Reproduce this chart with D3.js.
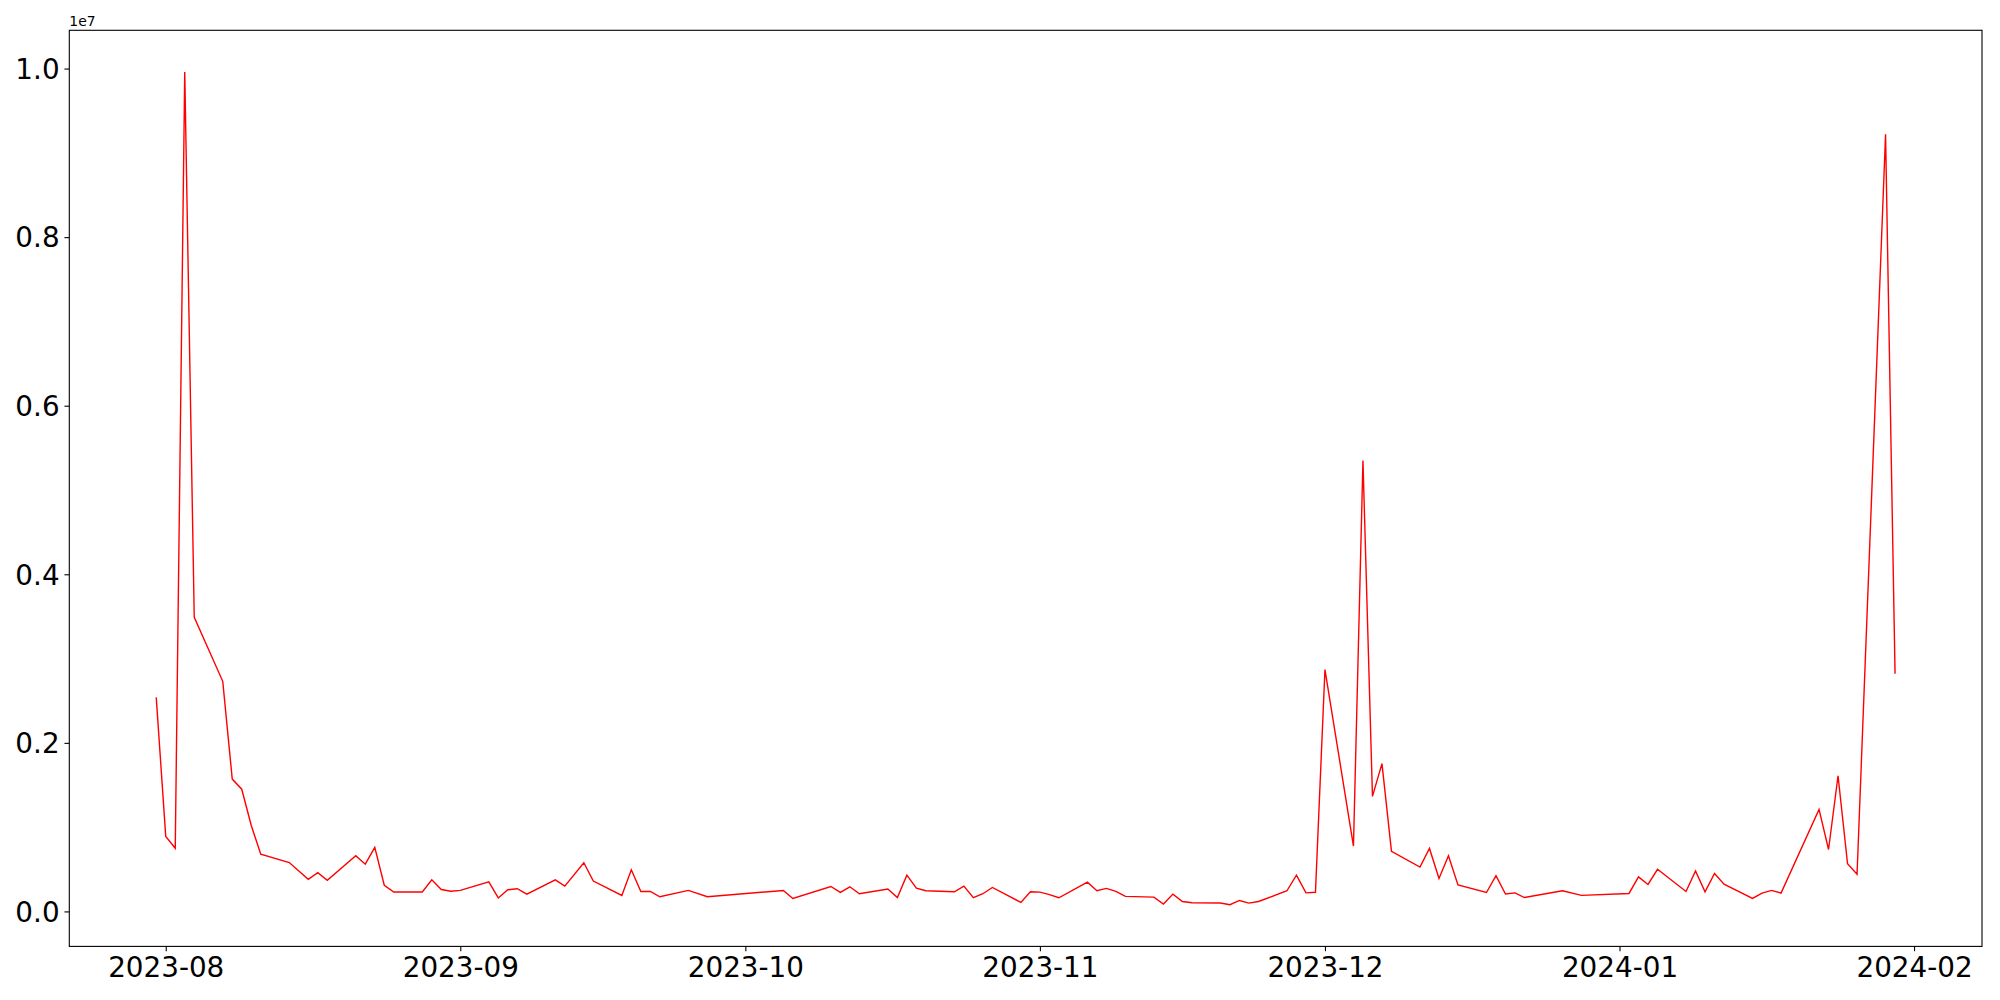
<!DOCTYPE html>
<html>
<head>
<meta charset="utf-8">
<script src="https://cdn.jsdelivr.net/npm/d3@7"></script>
<style>
  body { margin: 0; background: #fff; }
  text { font-family: "DejaVu Sans", sans-serif; fill: #000; }
</style>
</head>
<body>
<div id="chart"></div>
<script>
// trading days and values (raw units, axis shows 1e7)
const dates = [
  "2023-07-31",
  "2023-08-01", "2023-08-02", "2023-08-03", "2023-08-04",
  "2023-08-07", "2023-08-08", "2023-08-09", "2023-08-10", "2023-08-11",
  "2023-08-14", "2023-08-16", "2023-08-17", "2023-08-18",
  "2023-08-21", "2023-08-22", "2023-08-23", "2023-08-24", "2023-08-25",
  "2023-08-28", "2023-08-29", "2023-08-30", "2023-08-31", "2023-09-01",
  "2023-09-04", "2023-09-05", "2023-09-06", "2023-09-07", "2023-09-08",
  "2023-09-11", "2023-09-12", "2023-09-14", "2023-09-15",
  "2023-09-18", "2023-09-19", "2023-09-20", "2023-09-21", "2023-09-22",
  "2023-09-25", "2023-09-27",
  "2023-10-05", "2023-10-06",
  "2023-10-10", "2023-10-11", "2023-10-12", "2023-10-13",
  "2023-10-16", "2023-10-17", "2023-10-18", "2023-10-19", "2023-10-20",
  "2023-10-23", "2023-10-24", "2023-10-25", "2023-10-26", "2023-10-27",
  "2023-10-30", "2023-10-31", "2023-11-01", "2023-11-02", "2023-11-03",
  "2023-11-06", "2023-11-07", "2023-11-08", "2023-11-09", "2023-11-10",
  "2023-11-13", "2023-11-14", "2023-11-15", "2023-11-16", "2023-11-17",
  "2023-11-20", "2023-11-21", "2023-11-22", "2023-11-23", "2023-11-24",
  "2023-11-27", "2023-11-28", "2023-11-29", "2023-11-30", "2023-12-01",
  "2023-12-04", "2023-12-05", "2023-12-06", "2023-12-07", "2023-12-08",
  "2023-12-11", "2023-12-12", "2023-12-13", "2023-12-14", "2023-12-15",
  "2023-12-18", "2023-12-19", "2023-12-20", "2023-12-21", "2023-12-22",
  "2023-12-26", "2023-12-28",
  "2024-01-02", "2024-01-03", "2024-01-04", "2024-01-05",
  "2024-01-08", "2024-01-09", "2024-01-10", "2024-01-11", "2024-01-12",
  "2024-01-15", "2024-01-16", "2024-01-17", "2024-01-18",
  "2024-01-22", "2024-01-23", "2024-01-24", "2024-01-25", "2024-01-26",
  "2024-01-29", "2024-01-30"
];

const values = [
  2540000,
  890000, 750000, 9960000, 3490000,
  2730000, 1570000, 1450000, 1020000, 680000,
  580000, 380000, 460000, 370000,
  660000, 560000, 760000, 310000, 230000,
  230000, 375000, 260000, 240000, 250000,
  350000, 160000, 257000, 269000, 205000,
  375000, 300000, 577000, 360000,
  190000, 494000, 237000, 237000, 174000,
  249000, 174000,
  249000, 154000,
  296000, 225000, 292000, 210000,
  265000, 164000, 430000, 277000, 245000,
  233000, 300000, 162000, 210000, 284000,
  107000, 233000, 229000, 200000, 162000,
  347000, 245000, 273000, 237000, 178000,
  170000, 87000, 205000, 118000, 103000,
  99000, 79000, 130000, 99000, 118000,
  245000, 430000, 220000, 227000, 2870000,
  775000, 5350000, 1365000, 1754000, 713000,
  526000, 747000, 390000, 660000, 314000,
  224000, 424000, 207000, 220000, 165000,
  245000, 190000,
  213000, 410000, 320000, 500000,
  237000, 480000, 233000, 450000, 324000,
  154000, 217000, 249000, 217000,
  1210000, 735000, 1610000, 565000, 440000,
  9220000, 2820000
];

const monthTicks = ["2023-08-01", "2023-09-01", "2023-10-01", "2023-11-01",
  "2023-12-01", "2024-01-01", "2024-02-01"];
const yTicks = [0, 2000000, 4000000, 6000000, 8000000, 10000000];

const svgWidth = 2000;
const svgHeight = 1000;

const margin = { top: 30.3, right: 18, bottom: 53.6, left: 69.3 };
const width = svgWidth - margin.left - margin.right;
const height = svgHeight - margin.top - margin.bottom;

const parseDate = d3.utcParse("%Y-%m-%d");
const data = dates.map((d, i) => ({ date: parseDate(d), value: values[i] }));

const svg = d3.select("#chart")
  .append("svg")
  .attr("width", svgWidth)
  .attr("height", svgHeight);

const chartGroup = svg.append("g")
  .attr("transform", `translate(${margin.left}, ${margin.top})`);

// matplotlib style 5% padding on both axes
const xExt = d3.extent(data, d => d.date);
const xPad = (xExt[1] - xExt[0]) * 0.05;
const xScale = d3.scaleUtc()
  .domain([new Date(+xExt[0] - xPad), new Date(+xExt[1] + xPad)])
  .range([0, width]);

const yExt = d3.extent(data, d => d.value);
const yPad = (yExt[1] - yExt[0]) * 0.05;
const yScale = d3.scaleLinear()
  .domain([yExt[0] - yPad, yExt[1] + yPad])
  .range([height, 0]);

const tickLen = 4.86;
const fontSize = 27.8;

const bottomAxis = d3.axisBottom(xScale)
  .tickValues(monthTicks.map(parseDate))
  .tickFormat(d3.utcFormat("%Y-%m"))
  .tickSizeInner(tickLen)
  .tickSizeOuter(0)
  .tickPadding(4.86);

const leftAxis = d3.axisLeft(yScale)
  .tickValues(yTicks)
  .tickFormat(d => (d / 1e7).toFixed(1))
  .tickSizeInner(tickLen)
  .tickSizeOuter(0)
  .tickPadding(4.86);

const xAxis = chartGroup.append("g")
  .attr("transform", `translate(0, ${height})`)
  .call(bottomAxis);

const yAxis = chartGroup.append("g")
  .call(leftAxis);

[xAxis, yAxis].forEach(ax => {
  ax.select(".domain").remove();
  ax.selectAll(".tick line").attr("stroke", "#000").attr("stroke-width", 1.1);
  ax.selectAll(".tick text")
    .attr("font-family", "DejaVu Sans")
    .attr("font-size", fontSize)
    .attr("fill", "#000");
});
xAxis.selectAll(".tick text").attr("dy", "0.76em");
yAxis.selectAll(".tick text").attr("dy", "0.35em");

// the line
const line = d3.line()
  .x(d => xScale(d.date))
  .y(d => yScale(d.value));

chartGroup.append("path")
  .datum(data)
  .attr("fill", "none")
  .attr("stroke", "#ff0000")
  .attr("stroke-width", 1.4)
  .attr("stroke-linejoin", "miter")
  .attr("d", line);

// frame
chartGroup.append("rect")
  .attr("x", 0)
  .attr("y", 0)
  .attr("width", width)
  .attr("height", height)
  .attr("fill", "none")
  .attr("stroke", "#000")
  .attr("stroke-width", 1.1);

// offset text
chartGroup.append("text")
  .attr("x", 0)
  .attr("y", -4.5)
  .attr("font-size", 13.9)
  .text("1e7");
</script>
</body>
</html>
